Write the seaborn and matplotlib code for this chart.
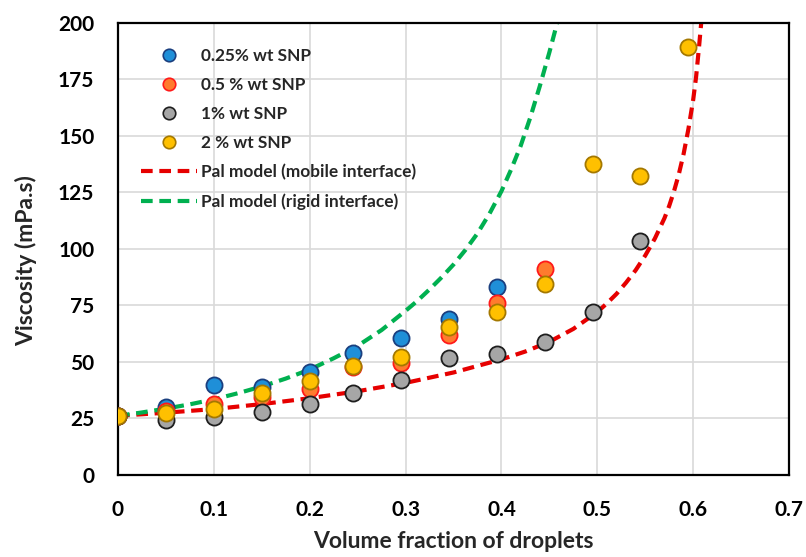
import numpy as np
import pandas as pd
import matplotlib
matplotlib.use("Agg")
import matplotlib.pyplot as plt
import seaborn as sns
from matplotlib.lines import Line2D

# Measured viscosity versus droplet volume fraction for each SNP loading
phi_025 = [0.0, 0.05, 0.10, 0.15, 0.20, 0.245, 0.295, 0.345, 0.395]
eta_025 = [26.0, 29.8, 39.8, 38.9, 45.3, 53.7, 60.4, 68.9, 82.9]

phi_05 = [0.0, 0.05, 0.10, 0.15, 0.20, 0.245, 0.295, 0.345, 0.395, 0.445]
eta_05 = [26.0, 28.0, 31.3, 34.5, 37.8, 47.5, 49.6, 61.8, 75.8, 91.2]

phi_1 = [0.0, 0.05, 0.10, 0.15, 0.20, 0.245, 0.295, 0.345, 0.395, 0.445, 0.495, 0.545]
eta_1 = [26.0, 24.2, 25.7, 27.6, 31.3, 36.3, 41.9, 51.8, 53.4, 58.6, 72.1, 103.3]

phi_2 = [0.0, 0.05, 0.10, 0.15, 0.20, 0.245, 0.295, 0.345, 0.395, 0.445, 0.495, 0.545, 0.595]
eta_2 = [26.0, 27.4, 29.2, 36.3, 41.5, 48.1, 51.9, 65.5, 72.1, 84.2, 137.5, 132.3, 189.1]

# Pal model curves
phi_mobile = [0.0, 0.05, 0.10, 0.15, 0.20, 0.25, 0.30, 0.35, 0.40, 0.425, 0.45,
              0.475, 0.50, 0.51, 0.52, 0.53, 0.54, 0.55, 0.56, 0.57, 0.575,
              0.58, 0.585, 0.59, 0.595, 0.60, 0.603, 0.606, 0.609, 0.612]
eta_mobile = [26.0, 27.4, 29.0, 31.2, 33.8, 36.9, 40.6, 45.2, 51.0, 54.5, 58.8,
              64.5, 72.0, 75.8, 80.0, 85.0, 90.5, 97.0, 104.5, 113.5, 119.0,
              125.5, 133.0, 142.0, 153.0, 166.0, 176.0, 189.0, 203.0, 218.0]

phi_rigid = [0.0, 0.025, 0.05, 0.075, 0.10, 0.125, 0.15, 0.175, 0.20, 0.225,
             0.25, 0.275, 0.30, 0.3125, 0.325, 0.3375, 0.35, 0.3625, 0.375,
             0.3875, 0.40, 0.41, 0.42, 0.43, 0.44, 0.45, 0.46, 0.465]
eta_rigid = [26.0, 27.5, 29.2, 31.1, 33.3, 36.0, 39.0, 42.5, 46.5, 51.5,
             57.0, 64.0, 72.5, 77.0, 82.0, 87.3, 93.0, 99.5, 106.8,
             115.5, 125.5, 135.0, 145.5, 158.0, 172.0, 187.0, 203.0, 211.5]

series = [
    ("0.25% wt SNP", phi_025, eta_025, "#1f8fd8", "#1b3f7f"),
    ("0.5 % wt SNP", phi_05, eta_05, "#ff7b2e", "#ff1a1a"),
    ("1% wt SNP", phi_1, eta_1, "#a6a6a6", "#1e1e1e"),
    ("2 % wt SNP", phi_2, eta_2, "#ffc000", "#a47800"),
]
models = [
    ("Pal model (mobile interface)", phi_mobile, eta_mobile, "#e60000"),
    ("Pal model (rigid interface)", phi_rigid, eta_rigid, "#00b050"),
]

x_ticks = [0, 0.1, 0.2, 0.3, 0.4, 0.5, 0.6, 0.7]
x_ticklabels = ["0", "0.1", "0.2", "0.3", "0.4", "0.5", "0.6", "0.7"]
y_ticks = [0, 25, 50, 75, 100, 125, 150, 175, 200]

sns.set_style("whitegrid")
plt.rcParams["font.family"] = ["Lato", "DejaVu Sans"]

fig = plt.figure(figsize=(8.06, 5.57), dpi=100)
ax = fig.add_axes([0.1464, 0.148, 0.8326, 0.811])

DASHES = (2.8, 1.6)
line_handles = []
for label, xs, ys, col in models:
    df = pd.DataFrame({"phi": xs, "eta": ys})
    sns.lineplot(data=df, x="phi", y="eta", ax=ax, color=col, lw=3.0,
                 sort=False, estimator=None, zorder=2, legend=False)
    ax.lines[-1].set_dashes(DASHES)
    ax.lines[-1].set_solid_joinstyle("round")
    line_handles.append(Line2D([], [], color=col, lw=3.0, dashes=DASHES, label=label))

marker_handles = []
for i, (label, xs, ys, fc, ec) in enumerate(series):
    df = pd.DataFrame({"phi": xs, "eta": ys})
    sns.scatterplot(data=df, x="phi", y="eta", ax=ax, s=135, color=fc,
                    edgecolor=ec, linewidth=1.3, zorder=3 + i, legend=False)
    marker_handles.append(Line2D([], [], ls="none", marker="o", markersize=9,
                                 markerfacecolor=fc, markeredgecolor=ec,
                                 markeredgewidth=1.2, label=label))

ax.set_xlim(0, 0.7)
ax.set_ylim(0, 200)
ax.set_xticks(x_ticks)
ax.set_xticklabels(x_ticklabels)
ax.set_yticks(y_ticks)
ax.grid(True, color="#d9d9d9", lw=1.2)
ax.set_axisbelow(True)
for sp in ax.spines.values():
    sp.set_visible(True)
    sp.set_color("black")
    sp.set_linewidth(1.6)
ax.tick_params(axis="both", length=0, labelsize=15, colors="black")
ax.tick_params(axis="x", pad=18)
ax.tick_params(axis="y", pad=17)
for t in ax.get_xticklabels() + ax.get_yticklabels():
    t.set_fontweight("bold")

ax.set_xlabel("Volume fraction of droplets", fontsize=16.5, fontweight="bold", labelpad=8)
ax.set_ylabel("Viscosity (mPa.s)", fontsize=16.5, fontweight="bold")
ax.yaxis.set_label_coords(-0.1207, 0.474)

leg = ax.legend(handles=marker_handles + line_handles, loc="upper left",
                bbox_to_anchor=(0.0107, 0.979), frameon=False,
                prop={"family": ["Lato", "DejaVu Sans"], "weight": "bold", "size": 12.4},
                handlelength=3.26, handletextpad=0.25, labelspacing=0.76)

fig.savefig("out.png", dpi=100)
